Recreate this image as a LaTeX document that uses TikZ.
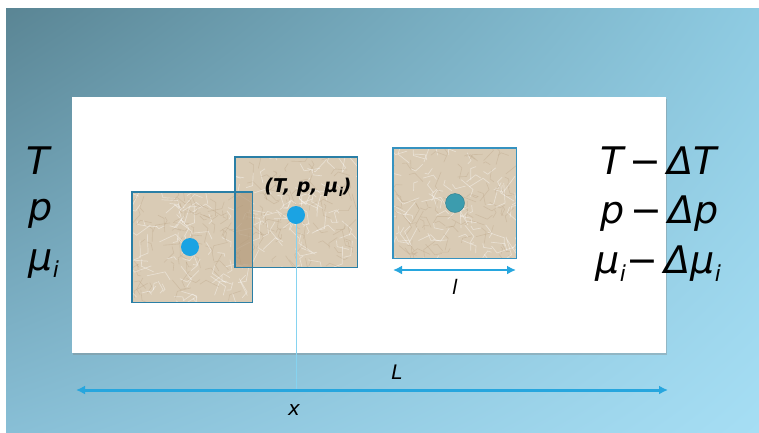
\documentclass[tikz,border=0pt]{standalone}
\usepackage{fontspec}
\setmainfont{DejaVu Sans}
\usetikzlibrary{arrows.meta,shadows,shadings,calc}
\definecolor{bgTL}{HTML}{5A8594}
\definecolor{bgTR}{HTML}{8ECBE2}
\definecolor{bgBL}{HTML}{88BFD6}
\definecolor{bgBR}{HTML}{A6DEF4}
\definecolor{paper}{HTML}{D9CBB5}
\definecolor{paperdark}{HTML}{B39A7A}
\definecolor{sqborder}{HTML}{2A7FA6}
\definecolor{sqborderC}{HTML}{3592C0}
\definecolor{dotblue}{HTML}{1BA3E3}
\definecolor{dotteal}{HTML}{3C9CAE}
\definecolor{arrowblue}{HTML}{27A6DE}
\definecolor{thinblue}{HTML}{86D3F0}
\tikzset{
  cell/.style={fill=paper, minimum height=110pt, anchor=north west, inner sep=0pt},
  dot/.style={circle, fill=dotblue, minimum size=18pt, inner sep=0pt},
  bigtxt/.style={font=\fontsize{38}{40}\selectfont\itshape, inner sep=0pt},
  smalltxt/.style={font=\fontsize{20}{22}\selectfont\itshape, inner sep=0pt},
  dimarrow/.style={draw=arrowblue, line width=3pt, {Latex[length=9pt,width=9pt]}-{Latex[length=9pt,width=9pt]}},
}
\newcommand{\msub}{μ\kern0.5pt\raisebox{-0.35ex}{\fontsize{22}{22}\selectfont i}}
% crumpled-paper texture inside a node
\newcommand{\crumple}[1]{%
  \begin{scope}
    \clip (#1.north west) rectangle (#1.south east);
    \foreach \k in {1,...,80}{
      \pgfmathsetmacro{\ax}{rnd}\pgfmathsetmacro{\ay}{rnd}
      \pgfmathsetmacro{\ang}{360*rnd}\pgfmathsetmacro{\len}{6+14*rnd}
      \draw[white, opacity=0.4, line width=0.7pt]
        ($(#1.north west)!\ax!(#1.north east)$) ++(0,{110*\ay}) -- ++(\ang:\len) -- ++(\ang+70:{\len*0.5});
      \pgfmathsetmacro{\bx}{rnd}\pgfmathsetmacro{\by}{rnd}
      \pgfmathsetmacro{\bng}{360*rnd}
      \draw[paperdark, opacity=0.3, line width=0.6pt]
        ($(#1.north west)!\bx!(#1.north east)$) ++(0,{110*\by}) -- ++(\bng:{\len*0.8}) -- ++(\bng-60:{\len*0.4});
    }
  \end{scope}}
\begin{document}
\begin{tikzpicture}[x=1pt,y=-1pt]
\pgfmathsetseed{7}
\useasboundingbox (0,0) rectangle (759,432);
% background gradient
\shade[upper left=bgTL, upper right=bgTR, lower left=bgBL, lower right=bgBR] (6,8) rectangle (759,432);
% panel
\node[fill=white, minimum width=594pt, minimum height=256pt, inner sep=0pt, anchor=north west,
      drop shadow={shadow xshift=1pt, shadow yshift=-2pt, opacity=0.35}] (panel) at (72,97) {};
% left square
\node[cell, minimum width=120pt] (sqA) at (132,192) {};
\crumple{sqA}
% middle square
\node[cell, minimum width=122pt] (sqB) at (235,157) {};
\crumple{sqB}
% overlap
\fill[paperdark, opacity=0.7] (235,192) rectangle (252,267);
\draw[sqborder, line width=1.8pt] (sqA.north west) rectangle (sqA.south east);
\draw[sqborder, line width=1.4pt] (sqB.north west) rectangle (sqB.south east);
% right square
\node[cell, minimum width=123pt] (sqC) at (393,148) {};
\crumple{sqC}
\draw[sqborderC, line width=1.4pt] (sqC.north west) rectangle (sqC.south east);
% dots
\node[dot] (dA) at (190,247) {};
\node[dot] (dB) at (296,215) {};
\node[circle, fill=dotteal, draw=dotteal!80!black, line width=0.4pt, minimum size=19pt, inner sep=0pt] (dC) at (455,203) {};
% label in middle square
\node[font=\fontsize{19}{21}\selectfont\bfseries\itshape, inner sep=0pt] (lab) at (308,187) {(T, p, μ\kern0.5pt\raisebox{-0.4ex}{\fontsize{12}{12}\selectfont i})};
% arrow l
\coordinate (lA) at (393,270);
\coordinate (lB) at (516,270);
\draw[dimarrow, line width=2.4pt] (lA) -- (lB);
\node[smalltxt] (ltxt) at (455,287) {l};
% vertical line and big arrow
\coordinate (xfoot) at (296,390);
\draw[thinblue, line width=1pt] (dB.south) -- (xfoot);
\coordinate (LA) at (76,390);
\coordinate (LB) at (668,390);
\draw[dimarrow] (LA) -- (LB);
\node[smalltxt] (Ltxt) at (397,372) {L};
\node[smalltxt] (xtxt) at (294,410) {x};
% left texts
\node[bigtxt, anchor=west] (T1) at (26,161) {T};
\node[bigtxt, anchor=west] (p1) at (28,214) {p};
\node[bigtxt, anchor=west] (m1) at (28,264) {\msub};
% right texts
\node[bigtxt, anchor=west] (T2) at (600,161) {T\,−\,ΔT};
\node[bigtxt, anchor=west] (p2) at (600,214) {p\,−\,Δp};
\node[bigtxt, anchor=west] (m2) at (595,264) {\msub−\,Δ\msub};
\end{tikzpicture}
\end{document}
